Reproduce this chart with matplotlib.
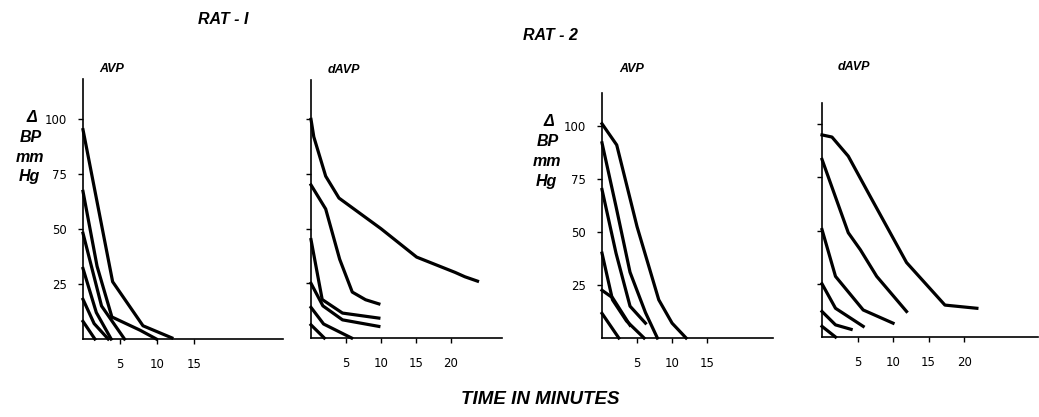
import matplotlib.pyplot as plt

W, H = 1039, 417

# RAT-1, AVP  (minutes, delta BP mm Hg)
r1_avp_x = [[0, 4, 8.1, 12], [0, 1.9, 3.9, 7.7, 9.9], [0, 2.5, 5.6],
            [0, 1.8, 3.8], [0, 1.5, 3.4], [0, 1.6]]
r1_avp_y = [[95, 26, 6, 0.5], [67, 33, 10, 4, 0], [48, 15, 0],
            [32, 12, 0], [18, 7, 0], [8, 0]]

# RAT-1, dAVP
r1_davp_x = [[0, 0.4, 2.1, 4, 10, 15.1, 20.6, 22, 23.8],
             [0, 2.1, 4.1, 5.9, 7.8, 9.7],
             [0, 1.6, 4.5, 9.7], [0, 1.7, 4.5, 9.7], [0, 1.8, 5.8], [0, 1.9]]
r1_davp_y = [[100, 92, 74, 64, 50, 37, 30, 28, 26],
             [70, 59, 36, 21, 17.5, 15.6],
             [45, 17.6, 11.4, 9.1], [25, 14.7, 8.3, 5.3], [14, 6.4, 0], [6, 0]]

# RAT-2, AVP
r2_avp_x = [[0, 2.1, 5, 8.1, 10, 12], [0, 2, 4, 6.2, 7.9], [0, 2, 4, 6.2],
            [0, 1.5, 3.5, 6.0], [0, 1.5, 4], [0, 2.4]]
r2_avp_y = [[101, 91, 52.5, 18, 7, 0], [92, 62, 31, 12, 0], [70, 40, 15, 7],
            [40, 18, 8, 0], [22.5, 19, 6], [11.6, 0]]

# RAT-2, dAVP
r2_davp_x = [[0, 1.4, 3.7, 6.8, 11.9, 17.3, 21.8],
             [0, 3.7, 5.4, 7.7, 11.9],
             [0, 1.9, 5.8, 10], [0, 1.9, 5.8], [0, 1.9, 4.1], [0, 1.9]]
r2_davp_y = [[95, 94, 85, 66, 35, 15, 13.5],
             [83.5, 49, 41, 28.5, 12],
             [50.5, 28.5, 12.7, 6.5], [25, 13.5, 5], [12, 5.7, 3.6], [5, 0]]

y_ticks = [25, 50, 75, 100]
x_ticks_avp = [5, 10, 15]
x_ticks_davp = [5, 10, 15, 20]

# panel boxes in pixels: x0, x1, top, baseline, xmax, ymax
panels = [
    (83, 283, 79, 339, 27.0, 118, r1_avp_x, r1_avp_y, x_ticks_avp, True),
    (311, 502, 80, 338, 27.3, 118, r1_davp_x, r1_davp_y, x_ticks_davp, False),
    (602, 773, 93, 338, 24.4, 115.5, r2_avp_x, r2_avp_y, x_ticks_avp, True),
    (822, 1038, 103, 337, 30.4, 110, r2_davp_x, r2_davp_y, x_ticks_davp, False),
]

fig = plt.figure(figsize=(W / 100, H / 100), dpi=100)

tick_font = dict(family="DejaVu Sans", weight="normal", size=8.5, color="black")

for x0, x1, top, base, xmax, ymax, xs, ys, xt, ylab in panels:
    ax = fig.add_axes([x0 / W, (H - base) / H, (x1 - x0) / W, (base - top) / H])
    for x, y in zip(xs, ys):
        ax.plot(x, y, color="black", lw=2.3, solid_joinstyle="round", clip_on=False)
    ax.set_xlim(0, xmax)
    ax.set_ylim(0, ymax)
    for s in ["top", "right"]:
        ax.spines[s].set_visible(False)
    for s in ["left", "bottom"]:
        ax.spines[s].set_linewidth(1.2)
    ax.set_xticks(xt)
    ax.set_xticklabels([str(t) for t in xt], fontdict=tick_font)
    ax.set_yticks(y_ticks)
    if ylab:
        ax.set_yticklabels([str(t) for t in y_ticks], fontdict=tick_font)
    else:
        ax.set_yticklabels([])
    ax.tick_params(axis="x", direction="out", length=3.5, width=1, pad=10)
    ax.tick_params(axis="y", direction="out", length=3.5, width=1, pad=8)


def ftext(x, y, s, **kw):
    fig.text(x / W, 1 - y / H, s, ha="center", va="center",
             family="Liberation Sans", style="italic", weight="bold", **kw)


ftext(223, 20, "RAT - I", size=11.5)
ftext(550, 35, "RAT - 2", size=11.5)
ftext(112, 69, "AVP", size=9)
ftext(344, 70, "dAVP", size=9)
ftext(632, 69, "AVP", size=9)
ftext(854, 67, "dAVP", size=9)
ftext(540, 400, "TIME IN MINUTES", size=13.5)

for lx, ly in [(31, 117), (548, 122)]:
    ftext(lx + 1, ly, "Δ", size=11.5)
    ftext(lx, ly + 20, "BP", size=11.5)
    ftext(lx - 1, ly + 40, "mm", size=11.5)
    ftext(lx - 2, ly + 60, "Hg", size=11.5)

fig.savefig("out.png", dpi=100)
